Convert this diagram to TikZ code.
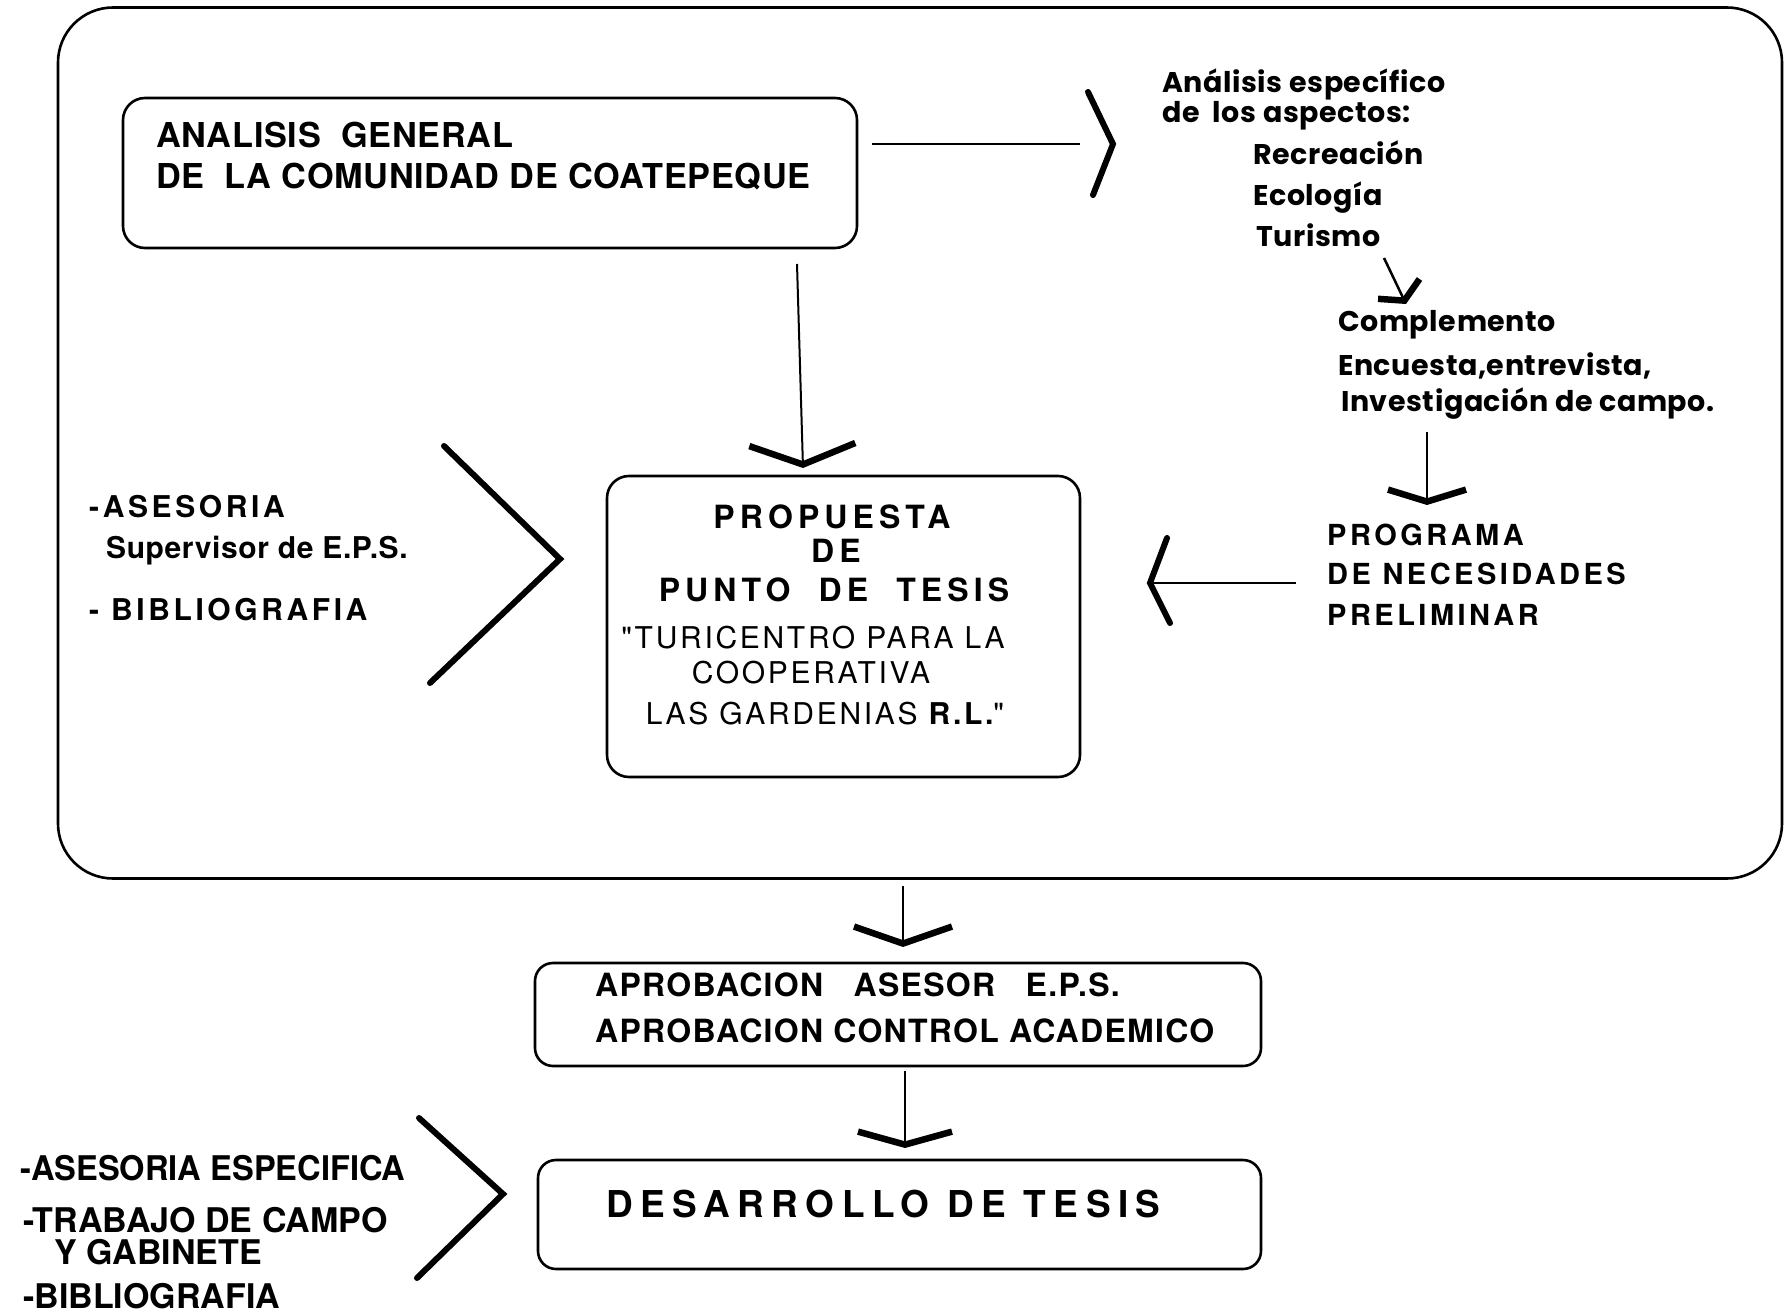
\documentclass[tikz,border=0pt]{standalone}
\usepackage{fontspec}
\setmainfont{TeX Gyre Heros}
\newfontfamily\hA{TeX Gyre Heros}[LetterSpace=4]
\newfontfamily\hAs{TeX Gyre Heros}[LetterSpace=2]
\newfontfamily\hsp{TeX Gyre Heros}[LetterSpace=12]
\newfontfamily\hsq{TeX Gyre Heros}[LetterSpace=9]
\newfontfamily\hspw{TeX Gyre Heros}[LetterSpace=16]
\newfontfamily\hspd{TeX Gyre Heros}[LetterSpace=20]
\newfontfamily\pop{Poppins}[LetterSpace=2]
\newfontfamily\hcond{TeX Gyre Heros}
\newfontfamily\hcondb{TeX Gyre Heros}[FakeStretch=0.96]
\usetikzlibrary{arrows.meta,calc}
\tikzset{
  box/.style={draw, line width=2.6pt, rounded corners=22pt, inner sep=0pt},
  conn/.style={line width=2pt},
  brk/.style={line width=6pt, line cap=round, line join=miter},
  ln/.style={anchor=base west, inner sep=0pt},
  lc/.style={anchor=base, inner sep=0pt},
  vhead/.style args={#1/#2}{-{Straight Barb[length=#2, width=#1, line width=6.5pt]}},
  fA/.style={font=\fontsize{34.3pt}{40pt}\selectfont\hAs\bfseries},
  fP/.style={font=\fontsize{28.5pt}{32pt}\selectfont\pop\bfseries},
  fS/.style={font=\fontsize{30pt}{34pt}\selectfont\hsp\bfseries},
  fB/.style={font=\fontsize{32pt}{36pt}\selectfont\hspw\bfseries},
  fR/.style={font=\fontsize{30pt}{34pt}\selectfont\hsq},
  fAp/.style={font=\fontsize{32pt}{36pt}\selectfont\hA\bfseries},
  fD/.style={font=\fontsize{37pt}{40pt}\selectfont\hspd\bfseries},
  fC/.style={font=\fontsize{34pt}{38pt}\selectfont\hcond\bfseries},
}
\begin{document}
\begin{tikzpicture}[x=1pt,y=-1pt]
\useasboundingbox[fill=white] (0,0) rectangle (1786,1313);

% outer frame
\node (outer) [box, rounded corners=55pt, minimum width=1724pt, minimum height=871pt] at (920,443) {};

% box 1
\node (b1) [box, minimum width=734pt, minimum height=150pt] at (490,173) {};
\node (b1l1) [ln, fA] at (156,148) {ANALISIS\ \ GENERAL};
\node (b1l2) [ln, fA] at (156,189) {DE\ \ LA COMUNIDAD DE COATEPEQUE};

% arrow to right bracket
\coordinate (tbtip) at (1113,144);
\draw[conn] (b1.east |- 0,144) ++(14,0) coordinate (b1e) -- (1080,144) coordinate (tbl);
\draw[brk] (1088,92) -- (tbtip) -- (1093,195);

% right-top text
\node (r1) [ln, fP] at (1162,93) {Análisis específico};
\node (r2) [ln, fP] at (1162,123) {de\ \ los aspectos:};
\node (r3) [ln, fP] at (1253,165) {Recreación};
\node (r4) [ln, fP] at (1253,206) {Ecología};
\node (r5) [ln, fP] at (1256,247) {Turismo};
\node (r6) [ln, fP] at (1338,332) {Complemento};
\node (r7) [ln, fP] at (1338,376) {Encuesta,entrevista,};
\node (r8) [ln, fP] at (1341,412) {Investigación de campo.};

\coordinate (tA) at (1384,258);
\coordinate (tB) at (1406,304);
\draw[conn, line width=2.5pt, vhead={46pt/13pt}] (tA) -- (tB);

\coordinate (iA) at (1427,432);
\coordinate (iB) at (1427,505);
\draw[conn, vhead={78pt/12pt}] (iA) -- (iB);

% programa
\node (p1) [ln, fS, font=\fontsize{29pt}{34pt}\selectfont\hsp\bfseries] at (1327,545) {PROGRAMA};
\node (p2) [ln, fS, font=\fontsize{29pt}{34pt}\selectfont\hsp\bfseries] at (1327,584) {DE NECESIDADES};
\node (p3) [ln, fS, font=\fontsize{29pt}{34pt}\selectfont\hsp\bfseries] at (1327,625) {PRELIMINAR};

\coordinate (pgA) at (1296,583);
\coordinate (pgB) at (1153,583);
\draw[conn] (pgA) -- (pgB);
\draw[brk] (1167,538) -- (1150,583) -- (1170,623);

% arrow b1 -> propuesta
\coordinate (bA) at (797,264);
\coordinate (bB) at (803,468);
\draw[conn, vhead={106pt/20pt}] (bA) -- (bB);

% propuesta box
\node (prop) [box, minimum width=473pt, minimum height=301pt] at (843.5,626.5) {};
\node (q1) [lc, fB] at (832,528) {PROPUESTA};
\node (q2) [lc, fB] at (836,562) {DE};
\node (q3) [lc, fB] at (834,601) {PUNTO\ \ DE\ \ TESIS};
\node (q4) [lc, fR] at (813,648) {"TURICENTRO PARA LA};
\node (q5) [lc, fR] at (811,683) {COOPERATIVA};
\node (q6) [lc, fR] at (825,724) {LAS GARDENIAS {\bfseries R.L.}"};

% left inputs
\node (s1) [ln, fS] at (89,517) {-ASESORIA};
\node (s2) [ln, font=\fontsize{30pt}{34pt}\selectfont\hAs\bfseries] at (106,558) {Supervisor de E.P.S.};
\node (s3) [ln, fS] at (89,620) {- BIBLIOGRAFIA};
\draw[brk] (444,446) -- (560,559) -- (430,683);

% outer -> aprobacion
\coordinate (oA) at (903,886);
\coordinate (oB) at (903,947);
\draw[conn, vhead={98pt/17pt}] (oA) -- (oB);

\node (apr) [box, rounded corners=18pt, minimum width=726pt, minimum height=103pt] at (898,1014.5) {};
\node (a1) [ln, fAp] at (595,996) {APROBACION\ \ \ ASESOR\ \ \ E.P.S.};
\node (a2) [ln, fAp] at (595,1042) {APROBACION CONTROL ACADEMICO};

\coordinate (dA) at (905,1071);
\coordinate (dB) at (905,1148);
\draw[conn, vhead={94pt/13pt}] (dA) -- (dB);

\node (des) [box, rounded corners=18pt, minimum width=723pt, minimum height=109pt] at (899.5,1214.5) {};
\node (d1) [ln, fD] at (606,1217) {DESARROLLO DE TESIS};

% bottom-left inputs
\node (c1) [ln, fC, font=\fontsize{34pt}{38pt}\selectfont\hcondb\bfseries] at (20,1180) {-ASESORIA ESPECIFICA};
\node (c2) [ln, fC] at (23,1232) {-TRABAJO DE CAMPO};
\node (c3) [ln, fC] at (54,1264) {Y GABINETE};
\node (c4) [ln, fC] at (23,1308) {-BIBLIOGRAFIA};
\draw[brk] (419,1118) -- (503,1194) -- (417,1278);
\end{tikzpicture}
\end{document}
